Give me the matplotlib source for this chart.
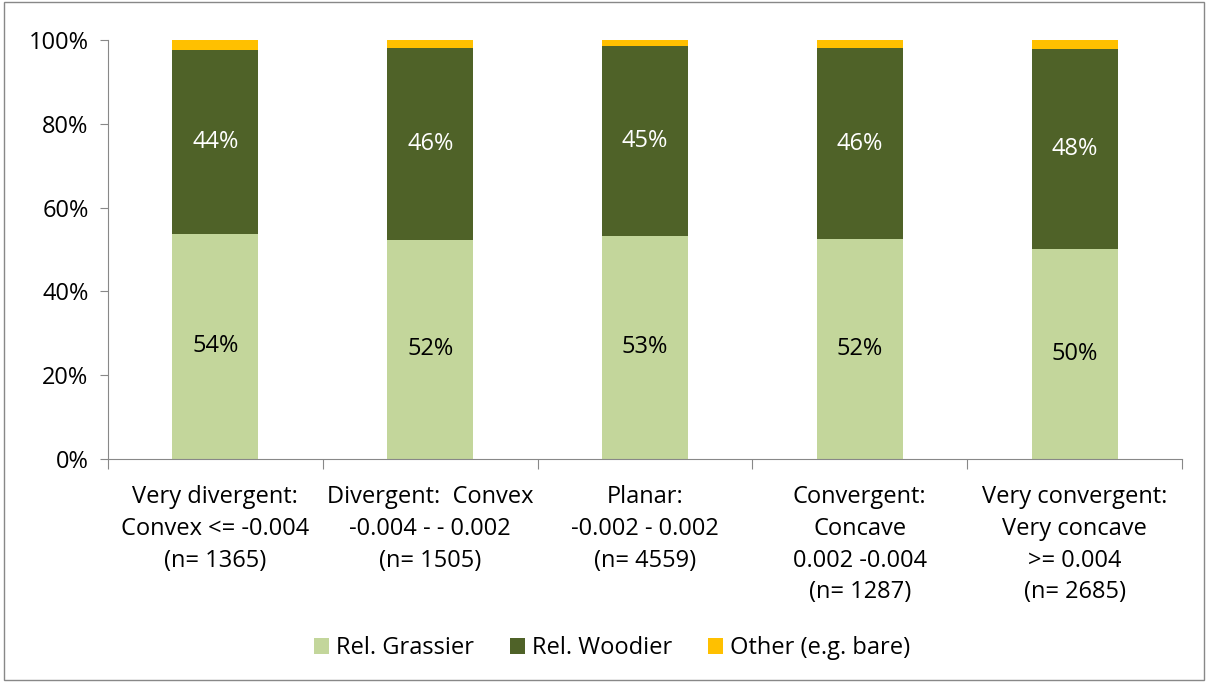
import matplotlib.pyplot as plt
import numpy as np

categories = ["Very divergent:\nConvex <= -0.004\n(n= 1365)",
              "Divergent:  Convex\n-0.004 - - 0.002\n(n= 1505)",
              "Planar:\n-0.002 - 0.002\n(n= 4559)",
              "Convergent:\nConcave\n0.002 -0.004\n(n= 1287)",
              "Very convergent:\nVery concave\n>= 0.004\n(n= 2685)"]
grassier = [53.7, 52.3, 53.3, 52.4, 50.1]
woodier = [43.8, 45.9, 45.3, 45.6, 47.8]
other = [100 - g - w for g, w in zip(grassier, woodier)]
series_names = ["Rel. Grassier", "Rel. Woodier", "Other (e.g. bare)"]
colors = ["#c3d69b", "#4f6228", "#ffc000"]

plt.rcParams['font.family'] = ['Open Sans', 'DejaVu Sans']
fs = 17

fig = plt.figure(figsize=(12.08, 6.82), dpi=100)
ax = fig.add_axes([108/1208, 1 - 459/682, (1182-108)/1208, (459-40)/682])

x = np.arange(len(categories))
w = 0.4
b1 = ax.bar(x, grassier, w, color=colors[0], label=series_names[0])
b2 = ax.bar(x, woodier, w, bottom=grassier, color=colors[1], label=series_names[1])
b3 = ax.bar(x, other, w, bottom=np.array(grassier) + np.array(woodier), color=colors[2], label=series_names[2])

for i in range(len(x)):
    ax.text(x[i], grassier[i] / 2, f"{round(grassier[i]):.0f}%", ha='center', va='center', fontsize=fs, color='black')
    ax.text(x[i], grassier[i] + woodier[i] / 2, f"{round(woodier[i]):.0f}%", ha='center', va='center', fontsize=fs, color='white')

ax.set_xlim(-0.5, len(x) - 0.5)
ax.set_ylim(0, 100)
ax.set_yticks(range(0, 101, 20))
ax.set_yticklabels([f"{v}%" for v in range(0, 101, 20)], fontsize=fs)
ax.set_xticks(np.arange(-0.5, len(x)), minor=False)
ax.set_xticklabels([])
ax.set_xticks(x, minor=True)
ax.set_xticklabels(categories, minor=True, fontsize=fs, linespacing=1.42)
ax.tick_params(axis='x', which='minor', length=0, pad=19)
ax.tick_params(axis='x', which='major', length=7, color='#888888')
ax.tick_params(axis='y', length=6, color='#888888', pad=8)
for s in ['top', 'right']:
    ax.spines[s].set_visible(False)
for s in ['left', 'bottom']:
    ax.spines[s].set_color('#888888')

fig.legend(handles=[b1, b2, b3], loc='center', bbox_to_anchor=(612/1208, 1 - 648/682), ncol=3,
           frameon=False, fontsize=fs, handlelength=0.65, handleheight=0.65, columnspacing=1.5, handletextpad=0.3)

fig.patches.append(plt.Rectangle((0.003, 0.003), 0.994, 0.994, transform=fig.transFigure,
                                 fill=False, edgecolor='#888888', linewidth=1))

fig.savefig("out.png", dpi=100)
